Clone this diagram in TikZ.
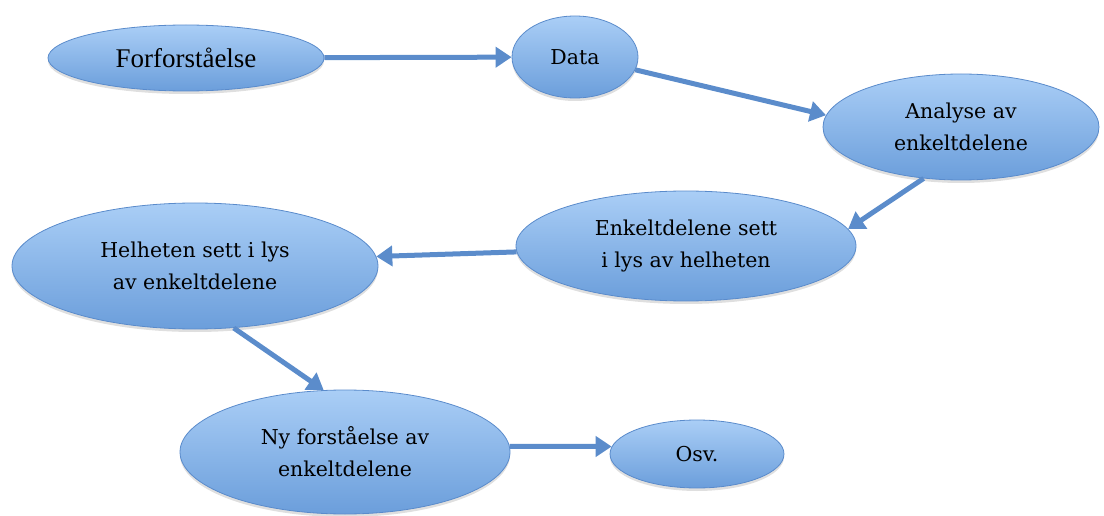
\documentclass[tikz,border=0pt]{standalone}
\usepackage{fontspec}
\setmainfont{DejaVu Serif}
\newfontfamily\timesfont{Liberation Serif}
\usetikzlibrary{arrows.meta,shapes.geometric,shadows}

\definecolor{ovaltop}{HTML}{AACEF6}
\definecolor{ovalbot}{HTML}{6B9EDB}
\definecolor{ovalline}{HTML}{5A8BCB}
\definecolor{arrowblue}{HTML}{5B8CCB}

\begin{document}
\begin{tikzpicture}[
    x=1pt, y=-1pt,
    every node/.style={font=\fontsize{20.5}{32}\selectfont},
    oval/.style={ellipse, draw=ovalline, line width=0.8pt, top color=ovaltop, bottom color=ovalbot,
                 align=center, inner sep=0pt,
                 drop shadow={shadow xshift=0pt, shadow yshift=-3pt, opacity=0.25}},
    arrow/.style={-{Triangle[length=16pt, width=20pt]}, line width=5pt, draw=arrowblue},
]
\useasboundingbox (0,0) rectangle (1104,516);

% Top row
\node[oval, minimum width=276pt, minimum height=66pt, font=\timesfont\fontsize{27}{32}\selectfont] (forf) at (186,58) {Forforståelse};
\node[oval, minimum width=126pt, minimum height=82pt] (data) at (575,57) {Data};
\node[oval, minimum width=276pt, minimum height=106pt] (ana) at (961,127) {Analyse av\\enkeltdelene};

% Middle row
\node[oval, minimum width=340pt, minimum height=110pt] (enk) at (686,246) {Enkeltdelene sett\\i lys av helheten};
\node[oval, minimum width=366pt, minimum height=126pt] (helh) at (195,266) {Helheten sett i lys\\av enkeltdelene};

% Bottom row
\node[oval, minimum width=330pt, minimum height=124pt] (ny) at (345,452) {Ny forståelse av\\enkeltdelene};
\node[oval, minimum width=174pt, minimum height=68pt] (osv) at (697,454) {Osv.};

% Arrows
\draw[arrow] (forf) -- (data);
\draw[arrow] (data.-12) -- (ana.175);
\draw[arrow] (ana.234) -- (enk.6);
\draw[arrow] (enk.182) -- (helh.3);
\draw[arrow] (helh.302) -- (ny.109);
\draw[arrow] (ny.2) -- (osv.175);

\end{tikzpicture}
\end{document}
